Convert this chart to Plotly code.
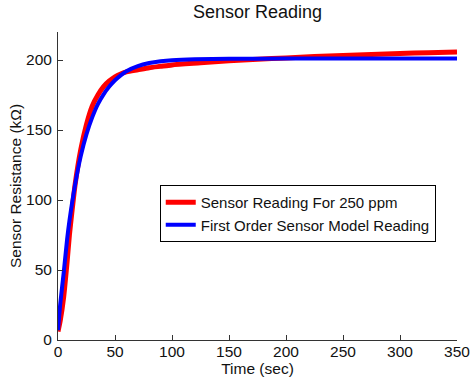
import plotly.graph_objects as go

# Measured sensor reading (red)
t_red = [0, 2, 5, 8, 10, 12, 15, 20, 25, 30, 35, 40, 45, 50, 55, 60, 70, 80, 90, 100,
         125, 150, 175, 200, 225, 250, 275, 300, 325, 350]
r_red = [6, 14, 31, 56, 75, 90, 111, 136, 154, 167, 175, 181, 185, 188, 190, 191.5,
         193, 194.5, 195.5, 196.5, 198, 199.5, 200.5, 201.5, 202.5, 203.3, 204, 204.7, 205.2, 205.8]

# First order model reading (blue)
t_blue = [0, 2, 5, 8, 10, 15, 20, 25, 30, 35, 40, 45, 50, 55, 60, 70, 80, 90, 100,
          120, 150, 200, 250, 300, 350]
r_blue = [7, 26, 48, 72, 85, 111, 131.5, 147, 159, 168.5, 175.5, 181, 185.5, 189, 192,
          195.6, 197.8, 199.1, 199.9, 200.6, 200.9, 201, 201, 201, 201]

x_ticks = [0, 50, 100, 150, 200, 250, 300, 350]
y_ticks = [0, 50, 100, 150, 200]

FONT = "Liberation Sans, Arial, Helvetica, sans-serif"
AX = "#333333"
FS = 15.5

fig = go.Figure()
fig.add_trace(go.Scatter(x=t_red, y=r_red, mode="lines", name="Sensor Reading For 250 ppm",
                         line=dict(color="#ff0000", width=5, shape="spline", smoothing=0.6)))
fig.add_trace(go.Scatter(x=t_blue, y=r_blue, mode="lines", name="First Order Sensor Model Reading",
                         line=dict(color="#0000ff", width=4, shape="spline", smoothing=0.6)))

fig.update_layout(
    width=470, height=379,
    margin=dict(l=58, r=13, t=32, b=39, autoexpand=False),
    paper_bgcolor="white", plot_bgcolor="white",
    font=dict(family=FONT, size=FS, color="#111111"),
    title=dict(text="Sensor Reading", x=0.548, xanchor="center", y=0.97, yanchor="middle",
               font=dict(size=18, family=FONT, color="#111111")),
    showlegend=True,
    legend=dict(x=0.255, y=0.503, xanchor="left", yanchor="top",
                bgcolor="white", bordercolor="#000000", borderwidth=1,
                font=dict(size=15, family=FONT, color="#111111"),
                tracegroupgap=0, itemwidth=30),
)
fig.update_xaxes(range=[0, 350], tickvals=x_ticks, ticks="inside", ticklen=5,
                 tickcolor=AX, showline=True, linecolor=AX, linewidth=1,
                 showgrid=False, zeroline=False, automargin=False,
                 ticklabelstandoff=-3, ticklabeloverflow="allow",
                 title=dict(text="Time (sec)", standoff=0, font=dict(size=FS)),
                 tickfont=dict(size=FS))
fig.update_yaxes(range=[0, 220], tickvals=y_ticks, ticks="inside", ticklen=5,
                 tickcolor=AX, showline=True, linecolor=AX, linewidth=1,
                 showgrid=False, zeroline=False, automargin=False,
                 ticklabelstandoff=2, ticklabeloverflow="allow",
                 title=dict(text="Sensor Resistance (kΩ)", standoff=0, font=dict(size=FS)),
                 tickfont=dict(size=FS))

fig.write_html("out.html")
